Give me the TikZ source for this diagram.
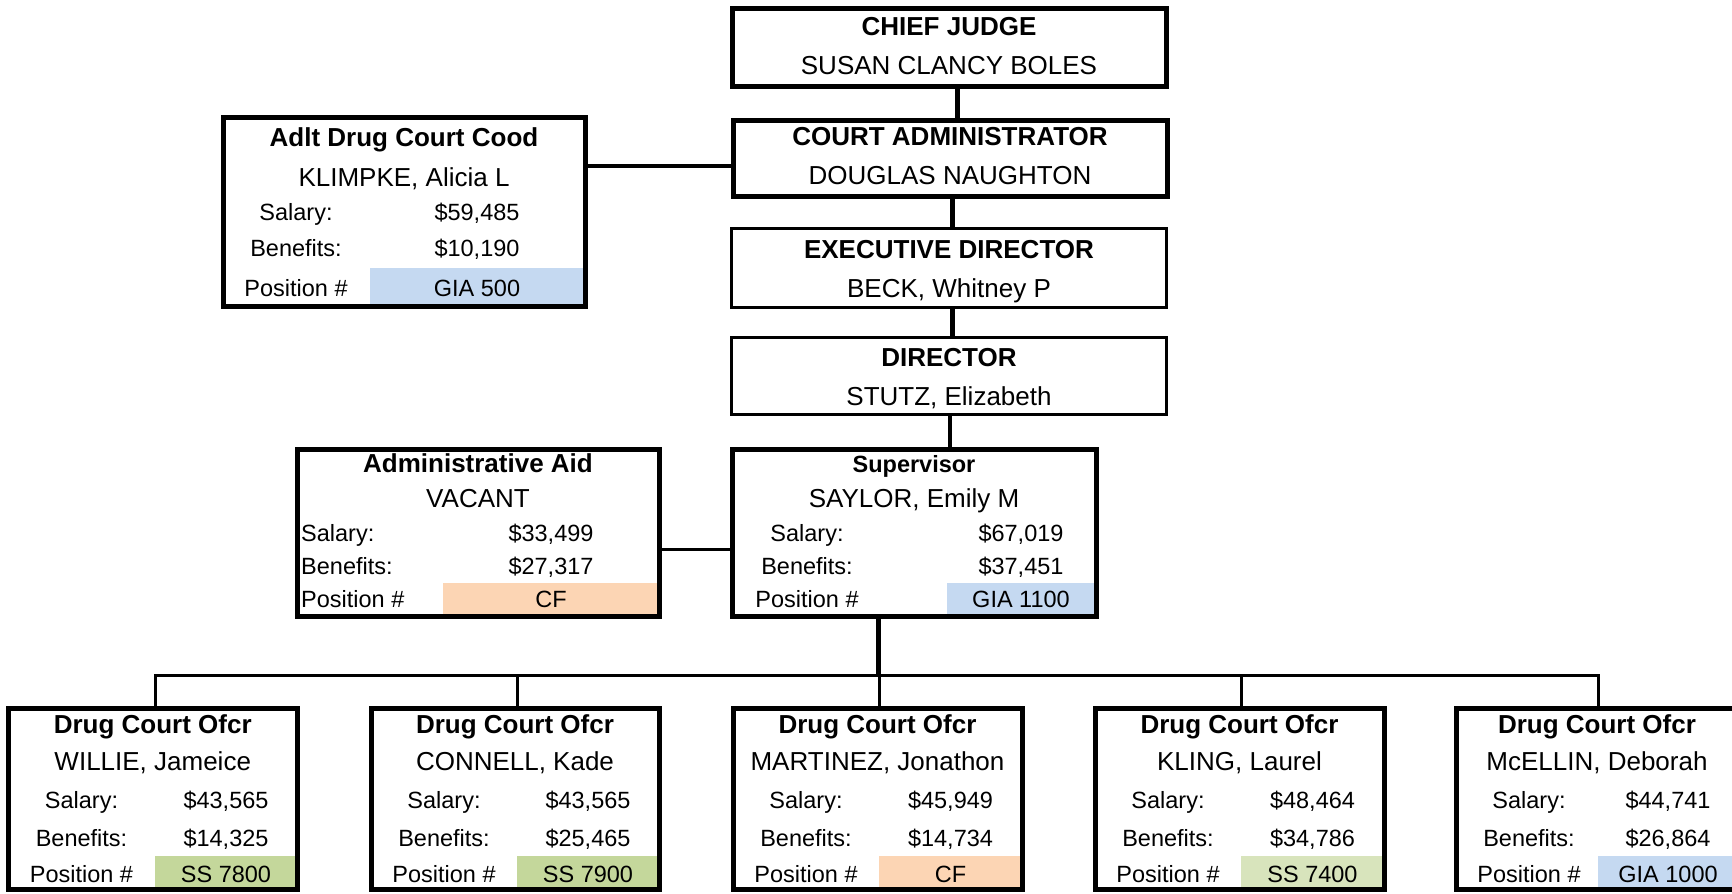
\documentclass[tikz,border=0pt]{standalone}
\usepackage{fontspec}
\setmainfont{Liberation Sans}
\definecolor{giablue}{HTML}{C5D9F1}
\definecolor{ssgreen}{HTML}{C4D79B}
\definecolor{sslight}{HTML}{D8E4BC}
\definecolor{cfpeach}{HTML}{FCD5B4}
\tikzset{
  thickbox/.style={draw, rectangle, line width=5pt, inner sep=0pt, outer sep=0pt},
  thinbox/.style={draw, rectangle, line width=3pt, inner sep=0pt, outer sep=0pt},
  ttl/.style={anchor=base, inner sep=0pt, font=\fontsize{26}{30}\selectfont\bfseries},
  ttlsmall/.style={anchor=base, inner sep=0pt, font=\fontsize{23.5}{28}\selectfont\bfseries},
  nm/.style={anchor=base, inner sep=0pt, font=\fontsize{26}{30}\selectfont},
  row/.style={anchor=base, inner sep=0pt, font=\fontsize{23.5}{28}\selectfont},
  rowl/.style={anchor=base west, inner sep=0pt, font=\fontsize{23.5}{28}\selectfont},
  conn/.style={line width=5pt},
  connmid/.style={line width=4pt},
  connthin/.style={line width=3pt, line join=miter},
}
\newcommand\mkbox[6]{%
  \pgfmathsetmacro\bw{#5-#3}\pgfmathsetmacro\bh{#6-#4}%
  \pgfmathsetmacro\bx{(#3+#5)/2}\pgfmathsetmacro\by{(#4+#6)/2}%
  \node[#1, minimum width=\bw pt, minimum height=\bh pt] (#2) at (\bx,\by) {};}
% name, left, right, cellx, person, salary, benefits, position, colour
\newcommand\dcbox[9]{%
  \fill[#9] (#4,856) rectangle (#3,889.5);
  \mkbox{thickbox}{#1}{#2}{708}{#3}{889.5}
  \pgfmathsetmacro\cx{(#2+#3)/2}\pgfmathsetmacro\lx{#2+73}\pgfmathsetmacro\vx{(#4+#3)/2}%
  \node[ttl] (#1t) at (\cx,733.3) {Drug Court Ofcr};
  \node[nm] (#1n) at (\cx,770.7) {#5};
  \node[row] (#1sl) at (\lx,808.3) {Salary:};
  \node[row] (#1sv) at (\vx,808.3) {#6};
  \node[row] (#1bl) at (\lx,846) {Benefits:};
  \node[row] (#1bv) at (\vx,846) {#7};
  \node[row] (#1pl) at (\lx,882) {Position \#};
  \node[row] (#1pv) at (\vx,882) {#8};
}
\begin{document}
\begin{tikzpicture}[x=1pt,y=-1pt]
\useasboundingbox (0,0) rectangle (1732,894);
\fill[white] (0,0) rectangle (1732,894);

% cell fills
\fill[giablue] (370,268) rectangle (585,306);
\fill[cfpeach] (443,583) rectangle (659,616.5);
\fill[giablue] (947,583) rectangle (1096,616.5);

% top chain
\mkbox{thickbox}{cj}{732}{8.5}{1166}{86.5}
\mkbox{thickbox}{ca}{733}{120}{1167}{196}
\mkbox{thinbox}{ed}{731.5}{228.5}{1166.5}{307.5}
\mkbox{thinbox}{dir}{731.5}{337.5}{1166.5}{414}
\node[ttl] (cjt) at (949,35) {CHIEF JUDGE};
\node[nm] (cjn) at (949,74) {SUSAN CLANCY BOLES};
\node[ttl] (cat) at (950,145.7) {COURT ADMINISTRATOR};
\node[nm] (can) at (950,184) {DOUGLAS NAUGHTON};
\node[ttl] (edt) at (949,258) {EXECUTIVE DIRECTOR};
\node[nm] (edn) at (949,297) {BECK, Whitney P};
\node[ttl] (dirt) at (949,366.5) {DIRECTOR};
\node[nm] (dirn) at (949,405) {STUTZ, Elizabeth};

% Adult drug court coordinator
\mkbox{thickbox}{adlt}{223.5}{117}{585}{306.5}
\node[ttl] (adltt) at (404,146.7) {Adlt Drug Court Cood};
\node[nm] (adltn) at (404,186) {KLIMPKE, Alicia L};
\node[row] (adltsl) at (296,220) {Salary:};
\node[row] (adltsv) at (477,220) {\$59,485};
\node[row] (adltbl) at (296,256) {Benefits:};
\node[row] (adltbv) at (477,256) {\$10,190};
\node[row] (adltpl) at (296,296) {Position \#};
\node[row] (adltpv) at (477,296) {GIA 500};

% Administrative aid
\mkbox{thickbox}{aa}{297.5}{449}{659}{616.5}
\node[ttl] (aat) at (478,472.7) {Administrative Aid};
\node[nm] (aan) at (478,507) {VACANT};
\node[rowl] (aasl) at (301,541.7) {Salary:};
\node[row] (aasv) at (551,541.7) {\$33,499};
\node[rowl] (aabl) at (301,574) {Benefits:};
\node[row] (aabv) at (551,574) {\$27,317};
\node[rowl] (aapl) at (301,607.3) {Position \#};
\node[row] (aapv) at (551,607.3) {CF};

% Supervisor
\mkbox{thickbox}{sup}{732.5}{449}{1096}{616.5}
\node[ttlsmall] (supt) at (914,472.7) {Supervisor};
\node[nm] (supn) at (914,507) {SAYLOR, Emily M};
\node[row] (supsl) at (807,541.7) {Salary:};
\node[row] (supsv) at (1021,541.7) {\$67,019};
\node[row] (supbl) at (807,574) {Benefits:};
\node[row] (supbv) at (1021,574) {\$37,451};
\node[row] (suppl) at (807,607.3) {Position \#};
\node[row] (suppv) at (1021,607.3) {GIA 1100};

% bottom row
\dcbox{b1}{8.5}{297}{155}{WILLIE, Jameice}{\$43,565}{\$14,325}{SS 7800}{ssgreen}
\dcbox{b2}{371}{659}{517}{CONNELL, Kade}{\$43,565}{\$25,465}{SS 7900}{ssgreen}
\dcbox{b3}{733}{1022}{879}{MARTINEZ, Jonathon}{\$45,949}{\$14,734}{CF}{cfpeach}
\dcbox{b4}{1095}{1384}{1241}{KLING, Laurel}{\$48,464}{\$34,786}{SS 7400}{sslight}
\dcbox{b5}{1456}{1738}{1598}{McELLIN, Deborah}{\$44,741}{\$26,864}{GIA 1000}{giablue}

% connectors
\coordinate (x1) at (957,0);
\coordinate (x2) at (952,0);
\coordinate (x3) at (950,0);
\coordinate (x4) at (878.7,0);
\coordinate (y1) at (0,166);
\coordinate (y2) at (0,549.7);
\coordinate (bar) at (0,675.5);
\coordinate (d1) at (155,0);
\coordinate (d2) at (517,0);
\coordinate (d3) at (879,0);
\coordinate (d4) at (1241,0);
\coordinate (d5) at (1598,0);
\draw[conn] (cj.south -| x1) -- (ca.north -| x1);
\draw[conn] (ca.south -| x2) -- (ed.north -| x2);
\draw[conn] (ed.south -| x2) -- (dir.north -| x2);
\draw[connmid] (dir.south -| x3) -- (sup.north -| x3);
\draw[connmid] (adlt.east |- y1) -- (ca.west |- y1);
\draw[connthin] (aa.east |- y2) -- (sup.west |- y2);
\draw[conn] (sup.south -| x4) -- ([yshift=-1.5pt]x4 |- bar);
\draw[connthin] (b1.north -| d1) -- (d1 |- bar) -- (d5 |- bar) -- (b5.north -| d5);
\draw[connthin] (d2 |- bar) -- (b2.north -| d2);
\draw[connthin] (d3 |- bar) -- (b3.north -| d3);
\draw[connthin] (d4 |- bar) -- (b4.north -| d4);
\end{tikzpicture}
\end{document}
